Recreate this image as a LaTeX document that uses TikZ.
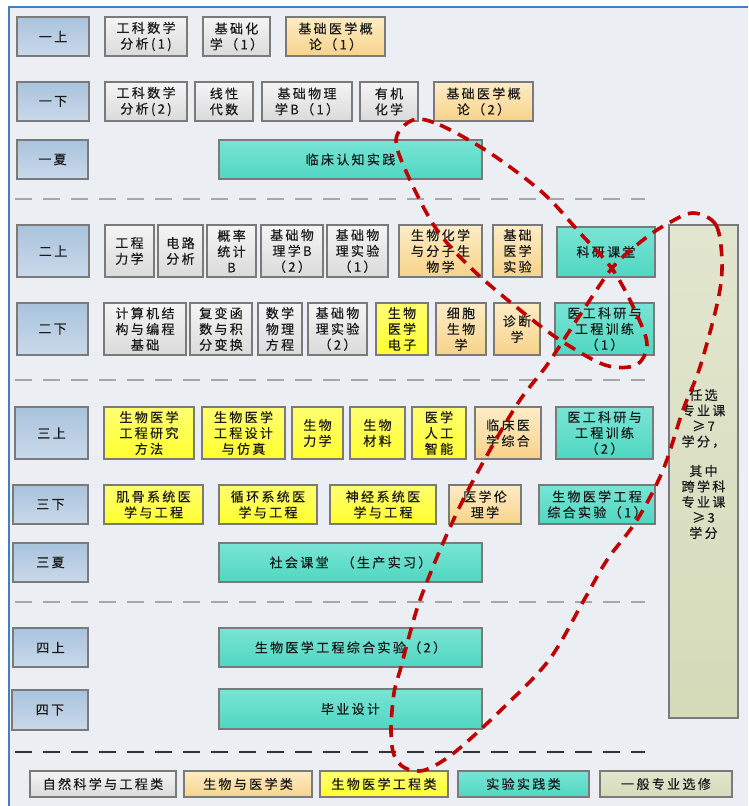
\documentclass[tikz,border=0pt]{standalone}
\usepackage{fontspec}
\setmainfont{Noto Sans CJK SC}[LetterSpace=18, FakeBold=0.4]
\usetikzlibrary{shadows}

\definecolor{pagebg}{HTML}{EBEEF2}
\definecolor{framebl}{HTML}{3F7FC6}
\definecolor{boxline}{HTML}{7A7A7A}
\definecolor{txt}{HTML}{1A1A1A}
\definecolor{semT}{HTML}{A9C3DD}
\definecolor{semB}{HTML}{CAD9EA}
\definecolor{grayT}{HTML}{F5F5F5}
\definecolor{grayB}{HTML}{DADADA}
\definecolor{oraT}{HTML}{FDECC6}
\definecolor{oraB}{HTML}{F7D38A}
\definecolor{yelT}{HTML}{FFFF72}
\definecolor{yelB}{HTML}{FFFF2E}
\definecolor{tealT}{HTML}{7AE4D5}
\definecolor{tealB}{HTML}{4FD7C1}
\definecolor{oliT}{HTML}{E2E6CF}
\definecolor{oliB}{HTML}{D5DBB9}
\definecolor{loopred}{HTML}{C00000}

\tikzset{
  cbox/.style={draw=boxline, line width=1.4pt, inner sep=0pt, align=center,
    text=txt, font=\fontsize{13}{15.8}\selectfont,
    drop shadow={shadow xshift=1.2pt, shadow yshift=-1.2pt, opacity=0.35, fill=black}},
  sem/.style={cbox, top color=semT, bottom color=semB},
  natsci/.style={cbox, top color=grayT, bottom color=grayB},
  biomed/.style={cbox, top color=oraT, bottom color=oraB},
  bme/.style={cbox, top color=yelT, bottom color=yelB},
  prac/.style={cbox, top color=tealT, bottom color=tealB},
  elect/.style={cbox, top color=oliT, bottom color=oliB},
  termsep/.style={line width=1.6pt, dash pattern=on 17pt off 11pt},
  redloop/.style={draw=loopred, line width=3.6pt, dash pattern=on 12pt off 8pt}
}

% \crs{name}{style}{x1}{y1}{x2}{y2}{text}
\newcommand\crs[7]{%
  \node[#2, minimum width={(#5-#3)*1pt}, minimum height={(#6-#4)*1pt}]
    (#1) at ({(#3+#5)/2},{(#4+#6)/2}) {#7};}

\begin{document}
\begin{tikzpicture}[x=1pt, y=-1pt]
  % canvas and frame
  \fill[white] (0,0) rectangle (748,806);
  \useasboundingbox (0,0) rectangle (748,806);
  \fill[pagebg] (9,7) rectangle (748,806);
  \draw[framebl, line width=1.8pt] (9,806) -- (9,7) -- (748,7);

  % term separators
  \draw[termsep, color=gray!70] (15,199) -- (645,199);
  \draw[termsep, color=gray!70] (15,380) -- (645,380);
  \draw[termsep, color=gray!70] (15,602) -- (645,602);
  \draw[termsep, color=black!80] (15,752) -- (645,752);

  % semester labels
  \crs{s11}{sem}{17}{17}{89}{56}{一上}
  \crs{s12}{sem}{17}{82}{89}{121}{一下}
  \crs{s1x}{sem}{17}{140}{88}{179}{一夏}
  \crs{s21}{sem}{17}{225}{89}{277}{二上}
  \crs{s22}{sem}{17}{303}{88}{355}{二下}
  \crs{s31}{sem}{15}{407}{88}{459}{三上}
  \crs{s32}{sem}{13}{485}{88}{524}{三下}
  \crs{s3x}{sem}{13}{543}{88}{582}{三夏}
  \crs{s41}{sem}{13}{628}{88}{667}{四上}
  \crs{s42}{sem}{12}{690}{88}{730}{四下}

  % year one
  \crs{gksx1}{natsci}{105}{17}{187}{56}{工科数学\\分析(1)}
  \crs{jchx}{natsci}{203}{17}{270}{56}{基础化\\学（1）}
  \crs{jcyx1}{biomed}{286}{17}{385}{56}{基础医学概\\论（1）}
  \crs{gksx2}{natsci}{105}{82}{187}{121}{工科数学\\分析(2)}
  \crs{xxds}{natsci}{195}{82}{253}{121}{线性\\代数}
  \crs{jcwl1}{natsci}{262}{82}{352}{121}{基础物理\\学B（1）}
  \crs{yjhx}{natsci}{360}{82}{418}{121}{有机\\化学}
  \crs{jcyx2}{biomed}{434}{82}{533}{121}{基础医学概\\论（2）}
  \crs{lcrz}{prac}{219}{140}{482}{179}{临床认知实践}

  % year two
  \crs{gclx}{natsci}{105}{225}{154}{277}{工程\\力学}
  \crs{dlfx}{natsci}{158}{225}{203}{277}{电路\\分析}
  \crs{gltj}{natsci}{207}{225}{256}{277}{概率\\统计\\B}
  \crs{jcwl2}{natsci}{261}{225}{323}{277}{基础物\\理学B\\（2）}
  \crs{wlsy1}{natsci}{327}{225}{388}{277}{基础物\\理实验\\（1）}
  \crs{shfz}{biomed}{399}{225}{482}{277}{生物化学\\与分子生\\物学}
  \crs{jcyxsy}{biomed}{493}{225}{542}{277}{基础\\医学\\实验}
  \crs{kykt}{prac}{557}{227}{655}{277}{科研课堂}
  \crs{jsj}{natsci}{104}{303}{186}{355}{计算机结\\构与编程\\基础}
  \crs{fbhs}{natsci}{190}{303}{252}{355}{复变函\\数与积\\分变换}
  \crs{sxwl}{natsci}{258}{303}{302}{355}{数学\\物理\\方程}
  \crs{wlsy2}{natsci}{308}{303}{367}{355}{基础物\\理实验\\（2）}
  \crs{swdz}{bme}{376}{303}{428}{355}{生物\\医学\\电子}
  \crs{xbsw}{biomed}{436}{303}{486}{355}{细胞\\生物\\学}
  \crs{zdx}{biomed}{494}{303}{540}{355}{诊断\\学}
  \crs{ygky1}{prac}{555}{303}{654}{355}{医工科研与\\工程训练\\（1）}

  % year three
  \crs{yjff}{bme}{104}{407}{194}{459}{生物医学\\工程研究\\方法}
  \crs{sjfz}{bme}{202}{407}{285}{459}{生物医学\\工程设计\\与仿真}
  \crs{swlx}{bme}{292}{407}{343}{459}{生物\\力学}
  \crs{swcl}{bme}{350}{407}{405}{459}{生物\\材料}
  \crs{rgzn}{bme}{412}{407}{466}{459}{医学\\人工\\智能}
  \crs{lczh}{biomed}{475}{407}{541}{459}{临床医\\学综合}
  \crs{ygky2}{prac}{556}{407}{653}{459}{医工科研与\\工程训练\\（2）}
  \crs{jgxt}{bme}{104}{485}{203}{524}{肌骨系统医\\学与工程}
  \crs{xhxt}{bme}{219}{485}{317}{524}{循环系统医\\学与工程}
  \crs{sjxt}{bme}{330}{485}{436}{524}{神经系统医\\学与工程}
  \crs{yxll}{biomed}{449}{485}{521}{524}{医学伦\\理学}
  \crs{zhsy1}{prac}{539}{485}{655}{524}{生物医学工程\\综合实验（1）}
  \crs{shkt}{prac}{219}{543}{482}{582}{社会课堂\quad（生产实习）}

  % year four
  \crs{zhsy2}{prac}{219}{628}{482}{667}{生物医学工程综合实验（2）}
  \crs{bysj}{prac}{219}{689}{482}{729}{毕业设计}

  % elective column
  \node[elect, minimum width=69pt, minimum height=493pt, text depth=0pt]
    (rxzy) at (703.5,471.5) {};
  \node[align=center, text=txt, font=\fontsize{13}{15.5}\selectfont, inner sep=0pt]
    (rxzytext) at (703.5,464) {任选\\专业课\\≥7\\学分，\\[14pt]其中\\跨学科\\专业课\\≥3\\学分};

  % legend
  \crs{lg1}{natsci}{30}{771}{176}{797}{自然科学与工程类}
  \crs{lg2}{biomed}{184}{771}{312}{797}{生物与医学类}
  \crs{lg3}{bme}{320}{771}{448}{797}{生物医学工程类}
  \crs{lg4}{prac}{458}{771}{589}{797}{实验实践类}
  \crs{lg5}{elect}{600}{771}{732}{797}{一般专业选修}

  % highlighted course groups
  \draw[redloop] plot[smooth cycle, tension=0.55] coordinates {
    (413,120) (440,125) (490,153) (543,193) (580,233) (613,270)
    (637,315) (647,345) (636,365) (605,365) (560,340) (520,310)
    (473,270) (437,230) (410,180) (396,140)};
  \draw[redloop] plot[smooth cycle, tension=0.55] coordinates {
    (693,213) (716,225) (722,262) (718,300) (700,367) (683,410)
    (663,470) (637,520) (607,560) (584,600) (549,660) (501,710)
    (455,752) (425,770) (405,768) (394,755) (391,730) (394,693)
    (401,667) (410,633) (420,600) (440,550) (463,500) (490,450)
    (520,400) (547,365) (580,315) (613,267) (643,240) (667,224)};
\end{tikzpicture}
\end{document}
